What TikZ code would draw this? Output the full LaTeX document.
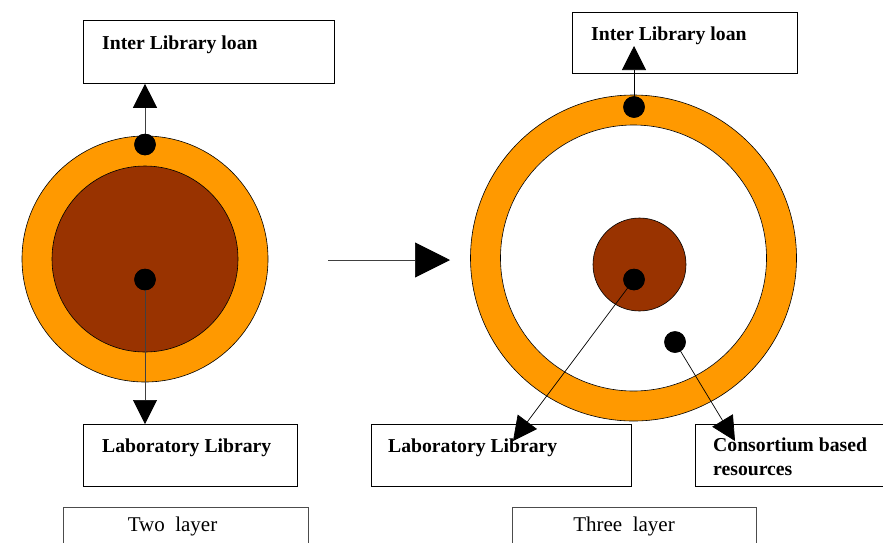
\documentclass[tikz,border=0pt]{standalone}
\usepackage{fontspec}
\setmainfont{Liberation Serif}
\usetikzlibrary{arrows.meta}

\definecolor{ringorange}{HTML}{FF9900}
\definecolor{corebrown}{HTML}{993300}

\tikzset{
  labelbox/.style={draw=black, line width=0.8pt, rectangle, inner sep=0pt, anchor=north west},
  capbox/.style={draw=black!70, line width=0.9pt, rectangle, inner sep=0pt, anchor=north west},
  boldtext/.style={anchor=base west, inner sep=0pt, align=left,
    font=\fontsize{19.7}{23.5}\selectfont\bfseries},
  captext/.style={anchor=base, inner sep=0pt, font=\fontsize{21}{25}\selectfont},
  dot/.style={circle, fill=black, inner sep=0pt, minimum size=21.5pt},
  conn/.style={draw=black!75, line width=0.7pt, -{Triangle[length=24pt,width=24pt,color=black]}},
  bigconn/.style={draw=black!75, line width=0.7pt, -{Triangle[length=35pt,width=35pt,color=black]}},
}

\begin{document}
\begin{tikzpicture}[x=1pt,y=-1pt]
  \useasboundingbox (0,0) rectangle (883,542);

  % ---------------- two-layer model ----------------
  \node[labelbox, minimum width=251pt, minimum height=63pt] (illA) at (83,20) {};
  \node[boldtext] (illAtxt) at (102,49) {Inter Library loan};

  \node[circle, draw=black, line width=0.6pt, fill=ringorange, minimum size=246pt, inner sep=0pt] (ringA) at (145,259) {};
  \node[circle, draw=black, line width=0.6pt, fill=corebrown, minimum size=186pt, inner sep=0pt] (coreA) at (145,259) {};

  \node[labelbox, minimum width=214pt, minimum height=62pt] (labA) at (83,424) {};
  \node[boldtext] (labAtxt) at (102,452.5) {Laboratory Library};

  \node[dot] (dA1) at (145,144.5) {};
  \node[dot] (dA2) at (145,279.5) {};
  \draw[conn] (dA1.center) -- (dA1 |- illA.south);
  \draw[conn] (dA2.center) -- (dA2 |- labA.north);
  \node[dot] at (dA1) {};
  \node[dot] at (dA2) {};

  \node[capbox, minimum width=245pt, minimum height=50pt] (capA) at (63,507) {};
  \node[captext] (capAtxt) at (172.5,531.5) {Two\hspace{0.5em}layer};

  % ---------------- transition arrow ----------------
  \coordinate (mS) at (328,260);
  \coordinate (mE) at (450,260);
  \draw[bigconn] (mS) -- (mE);

  % ---------------- three-layer model ----------------
  \node[labelbox, minimum width=225pt, minimum height=61pt] (illB) at (572,11.5) {};
  \node[boldtext] (illBtxt) at (591,40) {Inter Library loan};

  \node[circle, draw=black, line width=0.6pt, fill=ringorange, minimum size=326pt, inner sep=0pt] (ringB) at (633.5,258) {};
  \node[circle, draw=black, line width=0.6pt, fill=white, minimum size=266pt, inner sep=0pt] (midB) at (633.5,258) {};
  \node[circle, draw=black, line width=0.6pt, fill=corebrown, minimum size=93pt, inner sep=0pt] (coreB) at (639.5,264.5) {};

  \node[labelbox, minimum width=260pt, minimum height=62pt] (labB) at (371,424) {};
  \node[boldtext] (labBtxt) at (388,452.5) {Laboratory Library};

  \node[labelbox, minimum width=200pt, minimum height=62pt] (conB) at (694.5,424) {};
  % base anchor of a two-line node sits on its last line
  \node[boldtext] (conBtxt) at (713,475) {Consortium based\\resources};

  \node[dot] (dB1) at (634,107) {};
  \node[dot] (dB2) at (634,279.5) {};
  \node[dot] (dB3) at (675,342) {};
  \coordinate (tB1) at (634,46);
  \coordinate (tB2) at (513,441);
  \coordinate (tB3) at (735,441);
  \draw[conn, draw=black] (dB1.center) -- (tB1);
  \draw[conn, draw=black] (dB2.center) -- (tB2);
  \draw[conn, draw=black] (dB3.center) -- (tB3);
  \node[dot] at (dB1) {};
  \node[dot] at (dB2) {};
  \node[dot] at (dB3) {};

  \node[capbox, minimum width=244pt, minimum height=50pt] (capB) at (512,507) {};
  \node[captext] (capBtxt) at (624,531.5) {Three\hspace{0.5em}layer};
\end{tikzpicture}
\end{document}
